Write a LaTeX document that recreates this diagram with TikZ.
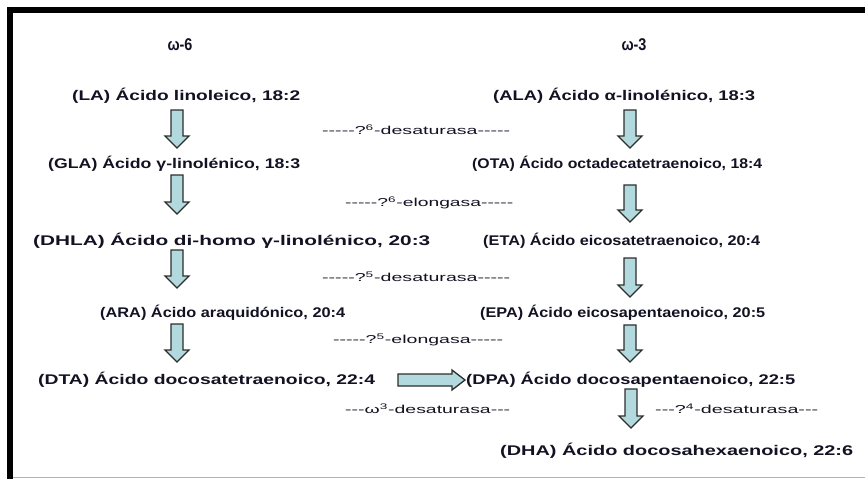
\documentclass[tikz,border=0pt]{standalone}
\usepackage{fontspec}
\setmainfont{Liberation Sans}
\usepackage{graphicx}
\definecolor{arrfill}{RGB}{178,218,222}
\definecolor{arrline}{RGB}{45,45,45}
\definecolor{txt}{RGB}{18,18,35}
\newcommand\fitw[2]{\resizebox{#1pt}{\height}{#2}}
\newcommand\hy{-\kern0pt}
\newcommand\darr[3]{%
  \filldraw[arrbox] (#1-6,#2) -- (#1+6,#2) -- (#1+6,#3-12) -- (#1+12,#3-12) -- (#1,#3) -- (#1-12,#3-12) -- (#1-6,#3-12) -- cycle;}
\tikzset{
  arrbox/.style={fill=arrfill,draw=arrline,line width=1.3pt,line join=miter},
  acid/.style={inner sep=0pt,text=txt,font=\fontsize{14}{16}\selectfont\bfseries},
  enz/.style={inner sep=0pt,text=txt,font=\fontsize{11.5}{13}\selectfont},
  head/.style={inner sep=0pt,text=txt,font=\fontsize{17}{19}\selectfont\bfseries}
}
\begin{document}
\begin{tikzpicture}[x=1pt,y=-1pt]
\useasboundingbox (0,0) rectangle (865,479);
\fill[white] (0,0) rectangle (865,479);
% frame
\draw[line width=6pt] (10,479) -- (10,10) -- (865,10);
\draw[gray!60,line width=1pt] (13,477) -- (865,477);
% headings
\node[head] (w6) at (180,45) {\fitw{25}{ω\hy6}};
\node[head] (w3) at (634,45) {\fitw{25}{ω\hy3}};
% omega-6 column
\node[acid,anchor=west] (la) at (72,96) {\fitw{228}{(LA) Ácido linoleico, 18:2}};
\node[acid,anchor=west] (gla) at (48,164) {\fitw{252}{(GLA) Ácido γ-linolénico, 18:3}};
\node[acid,anchor=west] (dhla) at (33,241) {\fitw{397}{(DHLA) Ácido di-homo γ-linolénico, 20:3}};
\node[acid,anchor=west] (ara) at (100,313) {\fitw{245}{(ARA) Ácido araquidónico, 20:4}};
\node[acid,anchor=west] (dta) at (38,380) {\fitw{337}{(DTA) Ácido docosatetraenoico, 22:4}};
% omega-3 column
\node[acid,anchor=west] (ala) at (493,96) {\fitw{262}{(ALA) Ácido α-linolénico, 18:3}};
\node[acid,anchor=west] (ota) at (472,164) {\fitw{290}{(OTA) Ácido octadecatetraenoico, 18:4}};
\node[acid,anchor=west] (eta) at (483,241) {\fitw{277}{(ETA) Ácido eicosatetraenoico, 20:4}};
\node[acid,anchor=west] (epa) at (480,313) {\fitw{285}{(EPA) Ácido eicosapentaenoico, 20:5}};
\node[acid,anchor=west] (dpa) at (466,380) {\fitw{329}{(DPA) Ácido docosapentaenoico, 22:5}};
\node[acid,anchor=west] (dha) at (500,451) {\fitw{353}{(DHA) Ácido docosahexaenoico, 22:6}};
% enzymes
\node[enz,anchor=west] (e1) at (322,130) {\fitw{188}{\hy\hy\hy\hy\hy?\textsuperscript{6}\hy desaturasa\hy\hy\hy\hy\hy}};
\node[enz,anchor=west] (e2) at (345,203) {\fitw{168}{\hy\hy\hy\hy\hy?\textsuperscript{6}\hy elongasa\hy\hy\hy\hy\hy}};
\node[enz,anchor=west] (e3) at (322,277) {\fitw{188}{\hy\hy\hy\hy\hy?\textsuperscript{5}\hy desaturasa\hy\hy\hy\hy\hy}};
\node[enz,anchor=west] (e4) at (333,340) {\fitw{170}{\hy\hy\hy\hy\hy?\textsuperscript{5}\hy elongasa\hy\hy\hy\hy\hy}};
\node[enz,anchor=west] (e5) at (345,409) {\fitw{165}{\hy\hy\hy ω\textsuperscript{3}\hy desaturasa\hy\hy\hy}};
\node[enz,anchor=west] (e6) at (655,409) {\fitw{163}{\hy\hy\hy?\textsuperscript{4}\hy desaturasa\hy\hy\hy}};
% block arrows, omega-6
\darr{177}{110}{148}
\darr{177}{175}{214}
\darr{177}{250}{288}
\darr{177}{324}{362}
% block arrows, omega-3
\darr{630}{110}{148}
\darr{630}{185}{222}
\darr{630}{258}{297}
\darr{630}{325}{362}
\darr{631}{389}{428}
% horizontal arrow DTA -> DPA
\filldraw[arrbox] (398,374) -- (452,374) -- (452,370) -- (465,380) -- (452,390) -- (452,386) -- (398,386) -- cycle;
\end{tikzpicture}
\end{document}
